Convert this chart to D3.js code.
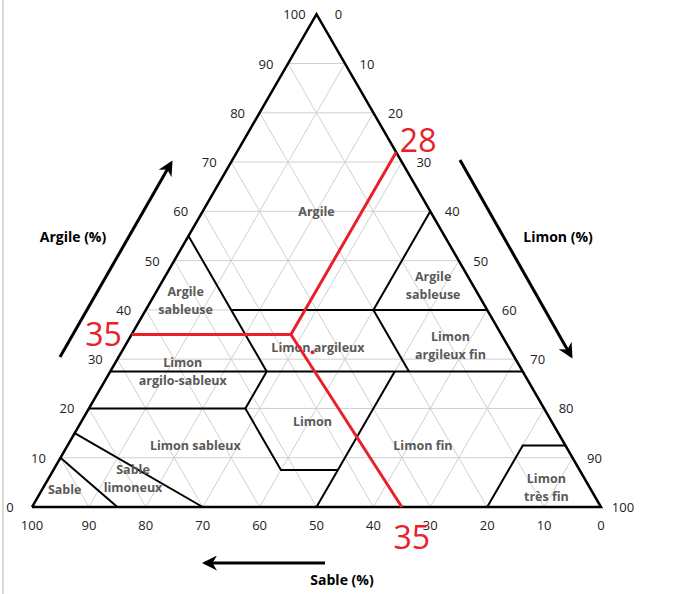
<!DOCTYPE html>
<html><head><meta charset="utf-8">
<script src="https://cdn.jsdelivr.net/npm/d3@7"></script>
<style>body{margin:0;background:#fff}text{font-family:"Open Sans","Liberation Sans",sans-serif}</style>
</head><body><svg id="chart" width="676" height="594"></svg>
<script>
// ticks (percent)
const ticks = [0, 10, 20, 30, 40, 50, 60, 70, 80, 90, 100];

// class boundaries, each point = [sable, argile]
const boundaries = [
  [[45, 55], [45, 27.5], [52.5, 20], [52.5, 7.5], [42.5, 7.5]],
  [[50, 0], [22.5, 27.5]],
  [[45, 40], [0, 40]],
  [[72.5, 27.5], [0, 27.5]],
  [[80, 20], [52.5, 20]],
  [[0, 60], [20, 40], [20, 27.5]],
  [[20, 0], [7.5, 12.5], [0, 12.5]],
  [[90, 10], [85, 0]],
  [[85, 15], [70, 0]]
];

const classLabels = [
  {name: ["Argile"], s: 20, c: 60},
  {name: ["Argile", "sableuse"], s: 52, c: 42},
  {name: ["Limon", "argilo-sableux"], s: 59.7, c: 27.6},
  {name: ["Limon sableux"], s: 65, c: 12.6},
  {name: ["Sable"], s: 92.4, c: 3.7},
  {name: ["Sable", "limoneux"], s: 79.3, c: 5.9},
  {name: ["Limon argileux"], s: 33.5, c: 32.5},
  {name: ["Limon"], s: 42, c: 17.4},
  {name: ["Limon fin"], s: 25, c: 12.6},
  {name: ["Argile", "sableuse"], s: 7, c: 45},
  {name: ["Limon", "argileux fin"], s: 10, c: 32.9},
  {name: ["Limon", "très fin"], s: 7.6, c: 4}
];

// red annotation: sample at 35 % argile, 35 % sable, 28 % limon
const annotation = [[100 - 35, 35], [37, 35], [0, 72]];
const annotation2 = [[37, 35], [35, 0]];

const L = 32, R = 601, B = 507;
const W = R - L, H = W * Math.sqrt(3) / 2;
const sx = d3.scaleLinear().domain([100, 0]).range([L, R]);
const cy = d3.scaleLinear().domain([0, 100]).range([B, B - H]);
const pt = (s, c) => [sx(s) - c / 100 * W / 2, cy(c)];

const svg = d3.select("#chart");
svg.append("line").attr("x1", 3).attr("x2", 3).attr("y1", 0).attr("y2", 594)
  .attr("stroke", "#d9d9d9").attr("stroke-width", 2);

const line = d3.line().x(d => pt(d[0], d[1])[0]).y(d => pt(d[0], d[1])[1]);

// grid
const grid = svg.append("g").attr("stroke", "#d0d0d0").attr("stroke-width", 1);
ticks.slice(1, -1).forEach(v => {
  grid.append("path").attr("d", line([[100 - v, v], [0, v]]));          // argile const
  grid.append("path").attr("d", line([[v, 0], [v, 100 - v]]));          // sable const
  grid.append("path").attr("d", line([[100 - v, 0], [0, 100 - v]]));    // limon const
});

// boundaries
svg.append("g").selectAll("path").data(boundaries).join("path")
  .attr("d", line).attr("fill", "none").attr("stroke", "#000").attr("stroke-width", 2);

// triangle
svg.append("path").attr("d", line([[100, 0], [0, 0], [0, 100], [100, 0]]))
  .attr("fill", "none").attr("stroke", "#000").attr("stroke-width", 2.5);

// tick labels
const tk = svg.append("g").attr("font-size", 13).attr("fill", "#222");
ticks.forEach(v => {
  const pl = pt(100 - v, v);
  tk.append("text").attr("x", pl[0] - 22).attr("y", pl[1] + 5).attr("text-anchor", "middle").text(v);
  const pr = pt(0, 100 - v);
  tk.append("text").attr("x", pr[0] + 22).attr("y", pr[1] + 5).attr("text-anchor", "middle").text(v);
  const pb = pt(v, 0);
  tk.append("text").attr("x", pb[0]).attr("y", B + 23).attr("text-anchor", "middle").text(v);
});

// class labels
const lab = svg.append("g").attr("font-size", 12.5).attr("font-weight", "bold")
  .attr("fill", "#595959").attr("text-anchor", "middle");
classLabels.forEach(d => {
  const p = pt(d.s, d.c);
  const n = d.name.length;
  d.name.forEach((t, i) => {
    lab.append("text").attr("x", p[0]).attr("y", p[1] + 5 + (i - (n - 1) / 2) * 18).text(t);
  });
});

// red annotation
svg.append("path").attr("d", line(annotation)).attr("fill", "none").attr("stroke", "#e8202a").attr("stroke-width", 3);
svg.append("path").attr("d", line(annotation2)).attr("fill", "none").attr("stroke", "#e8202a").attr("stroke-width", 3);
const dot = pt(35, 31.4);
svg.append("circle").attr("cx", dot[0]).attr("cy", dot[1]).attr("r", 2).attr("fill", "#e8202a");
const red = svg.append("g").attr("fill", "#e8202a").attr("font-size", 32)
  .attr("font-family", "DejaVu Sans").attr("text-anchor", "middle");
const a35 = pt(100 - 35, 35);
red.append("text").attr("x", a35[0] - 28).attr("y", a35[1] + 11).text("35");
const a28 = pt(0, 72);
red.append("text").attr("x", a28[0] + 22).attr("y", a28[1] - 0).text("28");
const b35 = pt(35, 0);
red.append("text").attr("x", b35[0] + 10).attr("y", B + 42).text("35");

// arrows
const defs = svg.append("defs");
defs.append("marker").attr("id", "ah").attr("viewBox", "0 0 10 10").attr("refX", 8).attr("refY", 5)
  .attr("markerWidth", 5).attr("markerHeight", 5).attr("orient", "auto")
  .append("path").attr("d", "M0,0 L10,5 L0,10 L3,5 Z").attr("fill", "#000");
const arrows = [[60, 357, 171, 163], [460, 160, 571, 356], [325, 563, 205, 563]];
svg.append("g").selectAll("line").data(arrows).join("line")
  .attr("x1", d => d[0]).attr("y1", d => d[1]).attr("x2", d => d[2]).attr("y2", d => d[3])
  .attr("stroke", "#000").attr("stroke-width", 3).attr("marker-end", "url(#ah)");

const titles = svg.append("g").attr("font-size", 14).attr("font-weight", "bold").attr("text-anchor", "middle");
titles.append("text").attr("x", 73).attr("y", 242).text("Argile (%)");
titles.append("text").attr("x", 558).attr("y", 242).text("Limon (%)");
titles.append("text").attr("x", 342).attr("y", 585).text("Sable (%)");
</script></body></html>
